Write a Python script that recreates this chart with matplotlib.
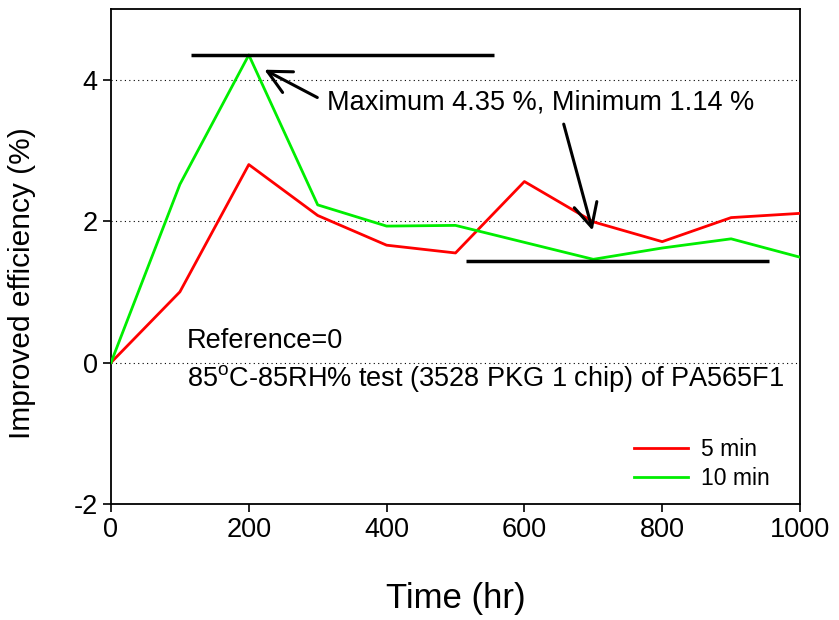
import matplotlib
matplotlib.use("Agg")
import matplotlib.pyplot as plt

plt.rcParams['font.family'] = ['Liberation Sans', 'DejaVu Sans']
plt.rcParams['mathtext.fontset'] = 'custom'
plt.rcParams['mathtext.rm'] = 'Liberation Sans'
plt.rcParams['axes.unicode_minus'] = False

time_hr = [0, 100, 200, 300, 400, 500, 600, 700, 800, 900, 1000]
eff_5min = [0, 1.00, 2.80, 2.08, 1.66, 1.55, 2.56, 1.99, 1.71, 2.05, 2.11]
eff_10min = [0, 2.52, 4.35, 2.23, 1.93, 1.94, 1.70, 1.46, 1.62, 1.75, 1.49]
series_labels = ['5 min', '10 min']
series_colors = ['#ff0000', '#00ee00']
x_ticks = [0, 200, 400, 600, 800, 1000]
y_ticks = [-2, 0, 2, 4]

max_level = 4.35
max_span = (116, 556)
min_level = 1.44
min_span = (515, 955)

fig = plt.figure(figsize=(8.39, 6.2), dpi=100)
ax = fig.add_axes([111 / 839, 1 - 504 / 620, (800 - 111) / 839, (504 - 9) / 620])

for yv in [0, 2, 4]:
    ax.axhline(yv, color='black', linestyle=(0, (1, 3)), linewidth=0.8, zorder=1)

for vals, lab, col in zip([eff_5min, eff_10min], series_labels, series_colors):
    ax.plot(time_hr, vals, color=col, linewidth=2, label=lab, zorder=3)

ax.hlines(max_level, *max_span, color='black', linewidth=2.5, zorder=4)
ax.hlines(min_level, *min_span, color='black', linewidth=2.5, zorder=4)

arrow_style = dict(arrowstyle='->', color='black', lw=2.2, mutation_scale=42)
ax.annotate('', xy=(219, 4.16), xytext=(303, 3.73), arrowprops=arrow_style)
ax.annotate('', xy=(700, 1.83), xytext=(656, 3.41), arrowprops=arrow_style)

ax.text(313, 3.68, 'Maximum 4.35 %, Minimum 1.14 %', fontsize=19.5, va='center', ha='left')
ax.text(110, 0.31, 'Reference=0', fontsize=19.5, va='center', ha='left')
ax.text(110, -0.22, '85$^{\\mathrm{o}}$C-85RH% test (3528 PKG 1 chip) of PA565F1',
        fontsize=19.5, va='center', ha='left')

ax.set_xlim(0, 1000)
ax.set_ylim(-2, 5)
ax.set_xticks(x_ticks)
ax.set_yticks(y_ticks)
ax.tick_params(direction='out', length=6, width=1.2, labelsize=19.5, top=False, right=False)
for s in ax.spines.values():
    s.set_linewidth(1.3)

ax.set_xlabel('Time (hr)', fontsize=25)
ax.xaxis.set_label_coords(0.5, -0.158)
ax.set_ylabel('Improved efficiency (%)', fontsize=21.5)
ax.yaxis.set_label_coords(-0.109, 0.446)

ax.legend(loc='lower right', bbox_to_anchor=(1.0, -0.032), frameon=False, fontsize=16.5,
          handlelength=2.35, handletextpad=0.6, labelspacing=0.25, borderaxespad=0.9)

fig.savefig('out.png', dpi=100)
